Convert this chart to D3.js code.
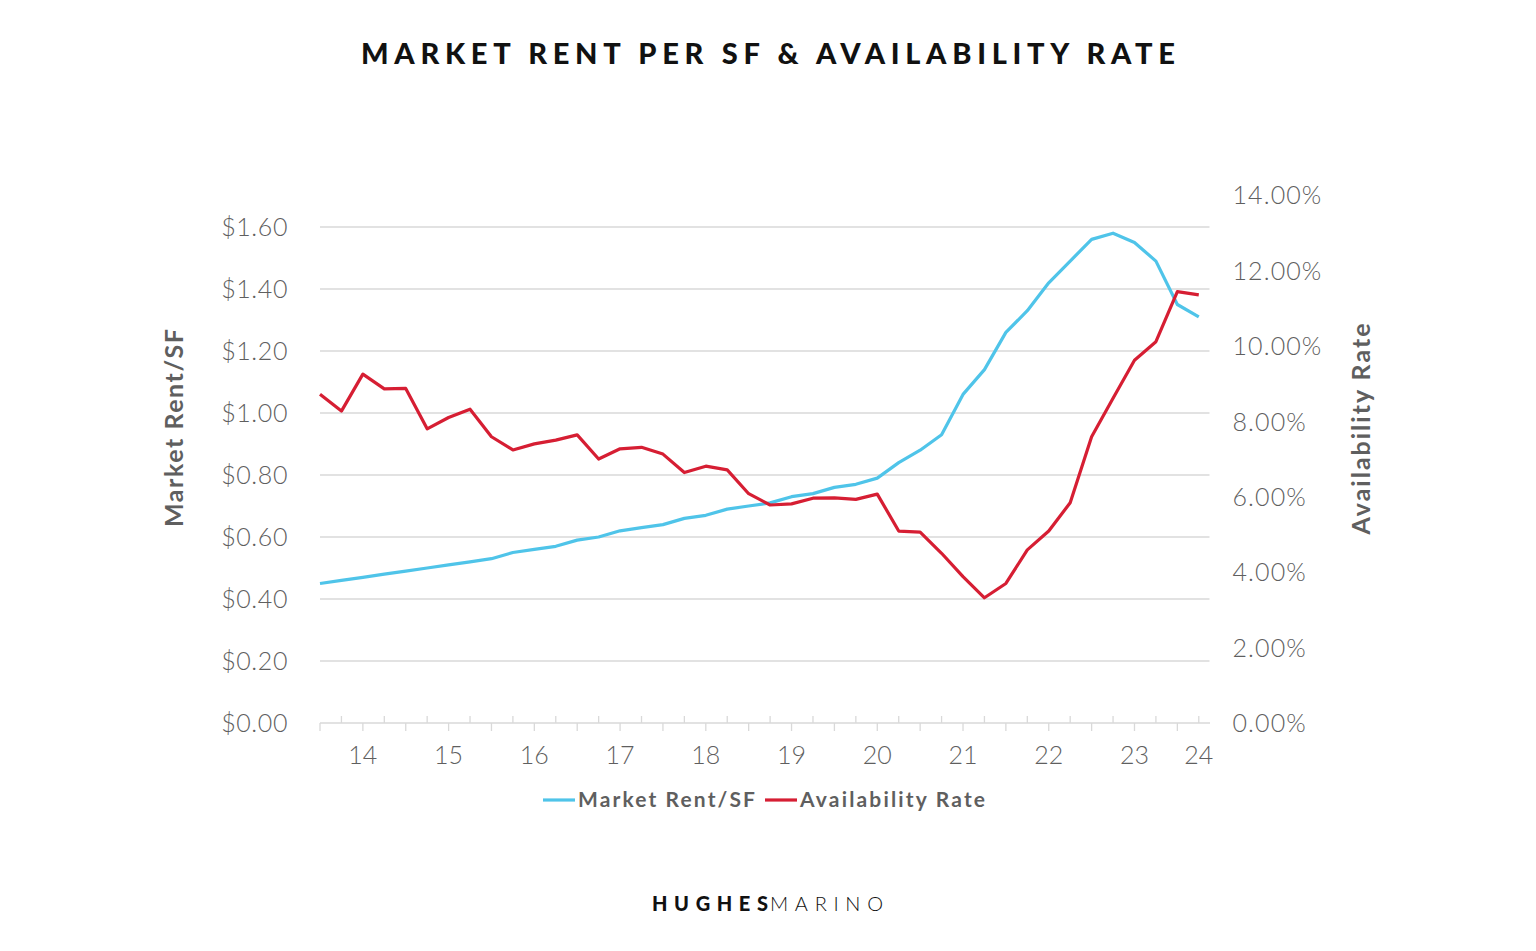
<!DOCTYPE html>
<html>
<head>
<meta charset="utf-8">
<script src="https://cdn.jsdelivr.net/npm/d3@7"></script>
<style>
  html, body { margin: 0; padding: 0; background: #fff; }
  svg { display: block; }
</style>
</head>
<body>
<svg id="chart" width="1536" height="951"></svg>
<script>
// ---- data ----
const quarterIndex = d3.range(42);
const marketRent = [0.45,0.46,0.47,0.48,0.49,0.50,0.51,0.52,0.53,0.55,0.56,0.57,0.59,0.60,0.62,0.63,0.64,0.66,0.67,0.69,0.70,0.71,0.73,0.74,0.76,0.77,0.79,0.84,0.88,0.93,1.06,1.14,1.26,1.33,1.42,1.49,1.56,1.58,1.55,1.49,1.35,1.31];
const availabilityRate = [8.72,8.27,9.25,8.86,8.87,7.80,8.10,8.32,7.59,7.24,7.40,7.50,7.64,7.00,7.27,7.31,7.13,6.64,6.81,6.71,6.08,5.78,5.81,5.96,5.97,5.93,6.07,5.09,5.06,4.50,3.88,3.32,3.70,4.59,5.09,5.84,7.59,8.61,9.62,10.11,11.44,11.35];
const xTickPositions = [2,6,10,14,18,22,26,30,34,38,41];
const xTickLabels = ["14","15","16","17","18","19","20","21","22","23","24"];
const leftTicks = [0,0.2,0.4,0.6,0.8,1.0,1.2,1.4,1.6];
const rightTicks = [0,2,4,6,8,10,12,14];
const seriesNames = ["Market Rent/SF","Availability Rate"];

(function () {
// ---- layout ----
const svg = d3.select("#chart");
const pLeft = 320, pRight = 1209.5, pBottom = 723, pTop = 195;
const blue = "#4FC4E9", red = "#D61E33", grid = "#d9d9d9", textCol = "#5f5f5f";
const font = "Lato, 'Open Sans', sans-serif";

const x = d3.scaleLinear().domain([0, 41.5]).range([pLeft, pRight]);
const yL = d3.scaleLinear().domain([0, 1.6]).range([pBottom, 227]);
const yR = d3.scaleLinear().domain([0, 14]).range([pBottom, pTop]);

// title
svg.append("text")
  .attr("x", 768).attr("y", 64)
  .attr("text-anchor", "middle")
  .attr("font-family", font).attr("font-weight", 900)
  .attr("font-size", 29).attr("fill", "#111")
  .attr("textLength", 814).attr("lengthAdjust", "spacing")
  .text("MARKET RENT PER SF & AVAILABILITY RATE");

// gridlines
svg.append("g").selectAll("line").data(leftTicks.slice(1)).join("line")
  .attr("x1", pLeft).attr("x2", pRight)
  .attr("y1", d => yL(d)).attr("y2", d => yL(d))
  .attr("stroke", grid).attr("stroke-width", 1.3);

// left axis
const gL = svg.append("g").attr("transform", `translate(${pLeft - 32},0)`)
  .call(d3.axisLeft(yL).tickValues(leftTicks).tickSize(0).tickPadding(0)
    .tickFormat(d => "$" + d3.format(".2f")(d)));
gL.select(".domain").remove();
gL.selectAll("text").attr("font-family", font).attr("font-weight", 300)
  .attr("font-size", 25).attr("fill", textCol).attr("dy", "0.35em")
  .attr("letter-spacing", 0.6);

// right axis
const gR = svg.append("g").attr("transform", `translate(${pRight + 23},0)`)
  .call(d3.axisRight(yR).tickValues(rightTicks).tickSize(0).tickPadding(0)
    .tickFormat(d => d3.format(".2f")(d) + "%"));
gR.select(".domain").remove();
gR.selectAll("text").attr("font-family", font).attr("font-weight", 300)
  .attr("font-size", 25).attr("fill", textCol).attr("dy", "0.35em")
  .attr("letter-spacing", 1.1);

// x axis line and ticks
svg.append("line").attr("x1", pLeft).attr("x2", pRight + 0.5)
  .attr("y1", pBottom).attr("y2", pBottom).attr("stroke", grid).attr("stroke-width", 1.3);
svg.append("g").selectAll("line").data(quarterIndex).join("line")
  .attr("x1", d => x(d)).attr("x2", d => x(d))
  .attr("y1", d => d % 2 === 0 ? pBottom : pBottom - 7)
  .attr("y2", d => d % 2 === 0 ? pBottom + 8 : pBottom)
  .attr("stroke", grid).attr("stroke-width", 1.3);
svg.append("g").selectAll("text").data(xTickPositions).join("text")
  .attr("x", d => x(d)).attr("y", 764)
  .attr("text-anchor", "middle")
  .attr("font-family", font).attr("font-weight", 300)
  .attr("font-size", 25).attr("fill", textCol)
  .text((d, i) => xTickLabels[i]);

// axis titles
svg.append("text")
  .attr("transform", "translate(183,428) rotate(-90)")
  .attr("text-anchor", "middle")
  .attr("font-family", font).attr("font-weight", 700)
  .attr("font-size", 25).attr("fill", textCol)
  .attr("textLength", 198).attr("lengthAdjust", "spacing")
  .text(seriesNames[0]);
svg.append("text")
  .attr("transform", "translate(1370,429) rotate(-90)")
  .attr("text-anchor", "middle")
  .attr("font-family", font).attr("font-weight", 700)
  .attr("font-size", 25).attr("fill", textCol)
  .attr("textLength", 211).attr("lengthAdjust", "spacing")
  .text(seriesNames[1]);

// lines
const lineL = d3.line().x((d, i) => x(i)).y(d => yL(d));
const lineR = d3.line().x((d, i) => x(i)).y(d => yR(d));
svg.append("path").datum(marketRent).attr("d", lineL)
  .attr("fill", "none").attr("stroke", blue).attr("stroke-width", 3.2)
  .attr("stroke-linejoin", "round");
svg.append("path").datum(availabilityRate).attr("d", lineR)
  .attr("fill", "none").attr("stroke", red).attr("stroke-width", 3.2)
  .attr("stroke-linejoin", "round");

// legend
const legend = [
  {name: seriesNames[0], color: blue, x0: 543, tx: 578, w: 177},
  {name: seriesNames[1], color: red, x0: 765, tx: 800, w: 185}
];
const lg = svg.append("g");
legend.forEach(l => {
  lg.append("line").attr("x1", l.x0).attr("x2", l.x0 + 32)
    .attr("y1", 800).attr("y2", 800).attr("stroke", l.color).attr("stroke-width", 3.2);
  lg.append("text").attr("x", l.tx).attr("y", 807)
    .attr("font-family", font).attr("font-weight", 700)
    .attr("font-size", 21).attr("fill", textCol)
    .attr("textLength", l.w).attr("lengthAdjust", "spacing")
    .text(l.name);
});

// footer logo
svg.append("text").attr("x", 652).attr("y", 911)
  .attr("font-family", font).attr("font-weight", 900)
  .attr("font-size", 20).attr("fill", "#111")
  .attr("textLength", 116).attr("lengthAdjust", "spacing")
  .text("HUGHES");
svg.append("text").attr("x", 770).attr("y", 911)
  .attr("font-family", font).attr("font-weight", 300)
  .attr("font-size", 20).attr("fill", "#111")
  .attr("textLength", 113).attr("lengthAdjust", "spacing")
  .text("MARINO");
})();
</script>
</body>
</html>
